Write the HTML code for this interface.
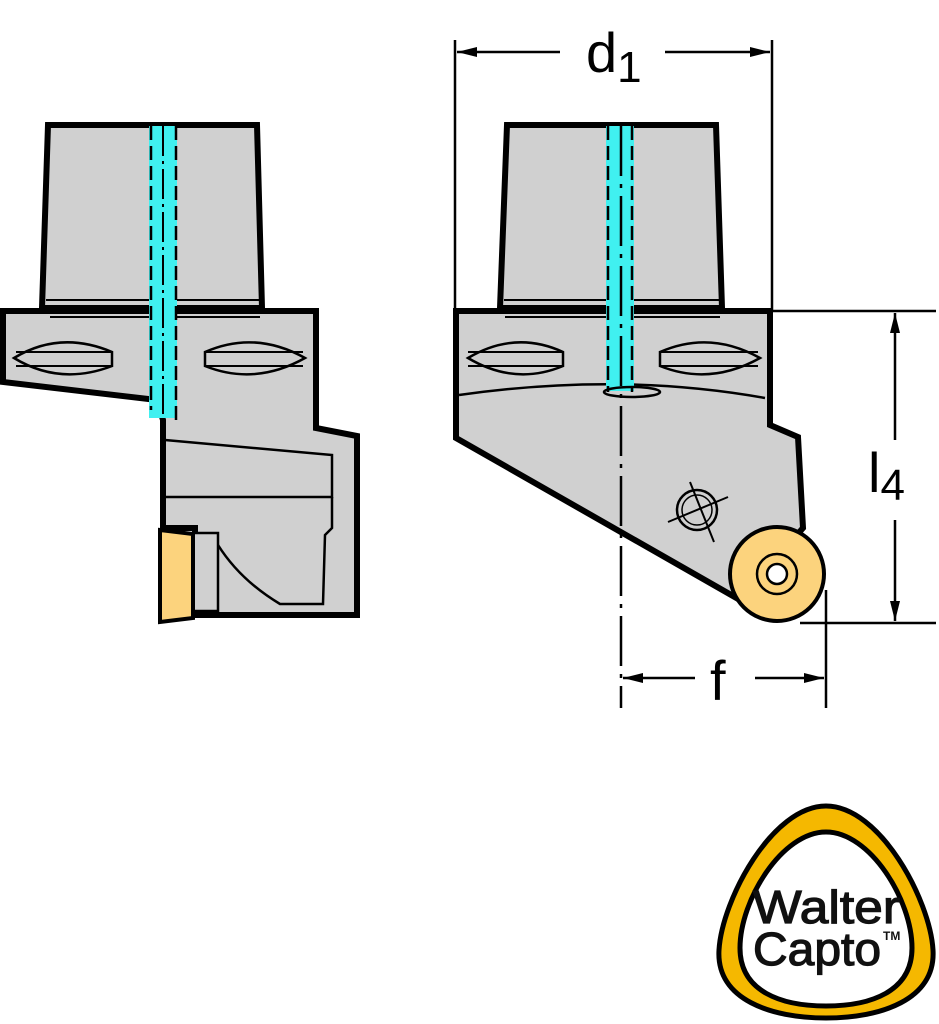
<!DOCTYPE html>
<html><head><style>html,body{margin:0;padding:0;background:#fff}svg{display:block}</style></head>
<body>
<svg width="939" height="1024" viewBox="0 0 939 1024" xmlns="http://www.w3.org/2000/svg" font-family="Liberation Sans, sans-serif">
<defs>
<marker id="ar" viewBox="0 0 20 10" refX="20" refY="5" markerWidth="20" markerHeight="10" markerUnits="userSpaceOnUse" orient="auto-start-reverse"><path d="M0,0 L20,5 L0,10 z" fill="#000"/></marker>
</defs>
<g stroke="#000" stroke-linejoin="miter">
<!-- LEFT VIEW -->
<path d="M48,125 L257,125 L262,308 L42,308 Z" fill="#d0d0d0" stroke-width="6"/>
<line x1="46" y1="300" x2="259" y2="300" stroke-width="2"/>
<path d="M3,311 L316,311 L316,428 L357,436 L357,615 L195,615 L195,528 L163,528 L163,420 L157,400 L3,382 Z" fill="#d0d0d0" stroke-width="6"/>
<line x1="50" y1="317" x2="260" y2="317" stroke-width="2"/>
<path d="M165,440 L332,455 L332,497 L165,497" fill="none" stroke-width="2.5"/>
<path d="M332,497 L332,528 L325,535 L323,604 L280,604 Q240,580 218,545" fill="none" stroke-width="2.5"/>
<rect x="193" y="533" width="25" height="78" fill="#d0d0d0" stroke-width="2.5"/>
<path d="M160,530 L193,534 L193,618 L160,622 Z" fill="#fcd37d" stroke-width="4"/>
<path d="M14,358 Q60,330 112,352 L112,366 Q60,386 14,358 Z" fill="#d0d0d0" stroke-width="2.5"/>
<line x1="16" y1="352" x2="112" y2="352" stroke-width="2"/><line x1="16" y1="366" x2="112" y2="366" stroke-width="2"/>
<path d="M305,358 Q255,330 205,352 L205,366 Q255,386 305,358 Z" fill="#d0d0d0" stroke-width="2.5"/>
<line x1="205" y1="352" x2="303" y2="352" stroke-width="2"/><line x1="205" y1="366" x2="303" y2="366" stroke-width="2"/>
<rect x="149" y="126" width="28" height="292" fill="#40f0f0" stroke="none"/>
<line x1="151" y1="126" x2="151" y2="410" stroke-width="2.5" stroke-dasharray="14,6"/>
<line x1="176" y1="126" x2="176" y2="420" stroke-width="2.5" stroke-dasharray="14,6"/>
<line x1="163" y1="126" x2="163" y2="415" stroke-width="2" stroke-dasharray="30,5,3,5"/>
<!-- RIGHT VIEW -->
<path d="M507,125 L716,125 L722,308 L500,308 Z" fill="#d0d0d0" stroke-width="6"/>
<line x1="504" y1="300" x2="719" y2="300" stroke-width="2"/>
<path d="M456,311 L770,311 L770,425 L798,437 L803,528 L740,600 L456,438 Z" fill="#d0d0d0" stroke-width="6"/>
<line x1="505" y1="317" x2="720" y2="317" stroke-width="2"/>
<path d="M459,395 Q620,372 765,398" fill="none" stroke-width="2.5"/>
<path d="M468,358 Q515,330 563,352 L563,366 Q515,386 468,358 Z" fill="#d0d0d0" stroke-width="2.5"/>
<line x1="468" y1="352" x2="563" y2="352" stroke-width="2"/><line x1="468" y1="366" x2="563" y2="366" stroke-width="2"/>
<path d="M760,358 Q710,330 660,352 L660,366 Q710,386 760,358 Z" fill="#d0d0d0" stroke-width="2.5"/>
<line x1="660" y1="352" x2="758" y2="352" stroke-width="2"/><line x1="660" y1="366" x2="758" y2="366" stroke-width="2"/>
<rect x="606" y="126" width="28" height="265" fill="#40f0f0" stroke="none"/>
<line x1="608" y1="126" x2="608" y2="392" stroke-width="2.5" stroke-dasharray="14,6"/>
<line x1="632" y1="126" x2="632" y2="392" stroke-width="2.5" stroke-dasharray="14,6"/>
<ellipse cx="632" cy="392" rx="28" ry="5" fill="none" stroke-width="2.5"/>
<line x1="621" y1="126" x2="621" y2="708" stroke-width="2.5" stroke-dasharray="50,8,4,8"/>
<circle cx="697" cy="510" r="20" fill="none" stroke-width="2.5"/>
<circle cx="697" cy="510" r="15" fill="none" stroke-width="1.5"/>
<line x1="668" y1="522" x2="728" y2="497" stroke-width="2"/>
<line x1="690" y1="482" x2="714" y2="542" stroke-width="2"/>
<circle cx="777" cy="574" r="47" fill="#fcd37d" stroke-width="4"/>
<circle cx="777" cy="574" r="20" fill="#fcd37d" stroke-width="2.5"/>
<circle cx="777" cy="574" r="10" fill="#fff" stroke-width="2.5"/>
<!-- dimensions -->
<line x1="455" y1="40" x2="455" y2="311" stroke-width="2.5"/>
<line x1="772" y1="40" x2="772" y2="311" stroke-width="2.5"/>
<line x1="457" y1="52" x2="560" y2="52" stroke-width="2.5" marker-start="url(#ar)"/>
<line x1="665" y1="52" x2="770" y2="52" stroke-width="2.5" marker-end="url(#ar)"/>
<line x1="772" y1="311" x2="936" y2="311" stroke-width="2.5"/>
<line x1="800" y1="623" x2="936" y2="623" stroke-width="2.5"/>
<line x1="895" y1="313" x2="895" y2="440" stroke-width="2.5" marker-start="url(#ar)"/>
<line x1="895" y1="520" x2="895" y2="621" stroke-width="2.5" marker-end="url(#ar)"/>
<line x1="826" y1="590" x2="826" y2="708" stroke-width="2.5"/>
<line x1="623" y1="678" x2="695" y2="678" stroke-width="2.5" marker-start="url(#ar)"/>
<line x1="755" y1="678" x2="824" y2="678" stroke-width="2.5" marker-end="url(#ar)"/>
</g>
<text x="586" y="72" font-size="56">d<tspan font-size="44" dy="10">1</tspan></text>
<text x="868" y="492" font-size="56">l<tspan font-size="44" dy="8">4</tspan></text>
<text x="710" y="700" font-size="56">f</text>
<!-- LOGO -->
<path d="M826,806 C880,806 930,900 933,950 C936,1000 880,1018 826,1018 C772,1018 716,1000 719,950 C722,900 772,806 826,806 Z" fill="#f5b800" stroke="#000" stroke-width="5"/>
<path d="M826,832 C870,832 912,900 912,948 C912,992 870,1006 826,1006 C782,1006 740,992 740,948 C740,900 782,832 826,832 Z" fill="#fff" stroke="#000" stroke-width="5"/>
<text x="753" y="923" font-size="46" stroke="#111" stroke-width="1.2" textLength="147" lengthAdjust="spacingAndGlyphs" fill="#111">Walter</text>
<text x="753" y="965" font-size="46" stroke="#111" stroke-width="1.2" textLength="128" lengthAdjust="spacingAndGlyphs" fill="#111">Capto</text>
<text x="883" y="940" font-size="12" font-weight="bold" fill="#111">TM</text>
</svg>
</body></html>
